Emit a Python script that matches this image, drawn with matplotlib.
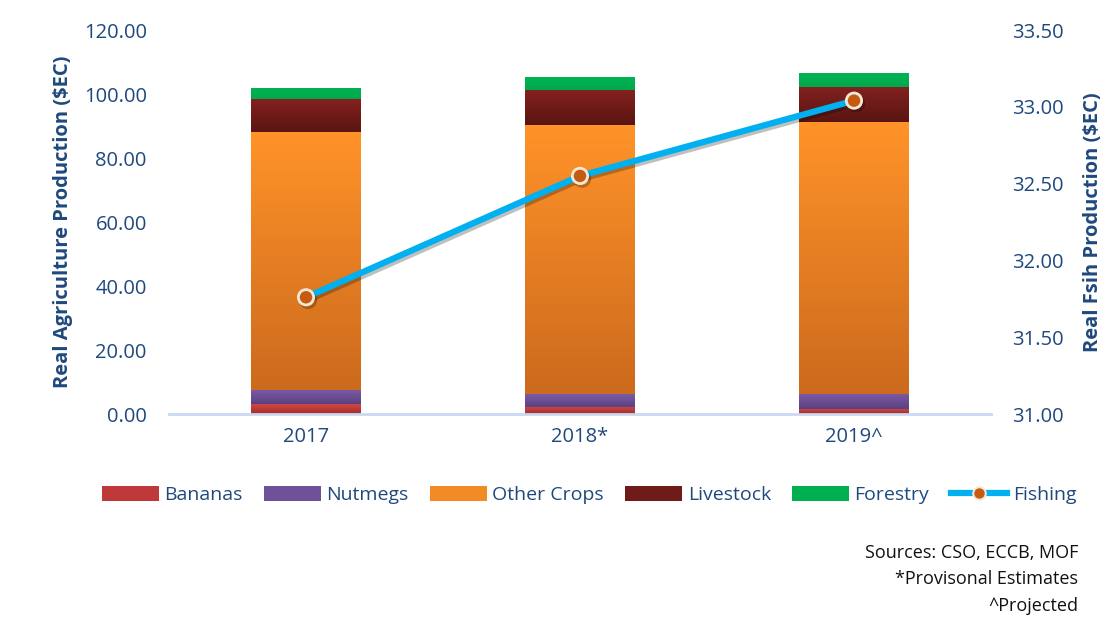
import numpy as np
import matplotlib
matplotlib.use("Agg")
import matplotlib.pyplot as plt
from matplotlib.colors import LinearSegmentedColormap
from matplotlib.lines import Line2D
from matplotlib.patches import Patch
import matplotlib.patheffects as pe

plt.rcParams['font.family'] = ['Open Sans', 'DejaVu Sans']

years = ["2017", "2018*", "2019^"]
bananas = [3.1, 2.3, 1.7]
nutmegs = [4.4, 4.0, 4.7]
other_crops = [80.5, 84.1, 84.8]
livestock = [10.3, 10.9, 11.1]
forestry = [3.6, 4.0, 4.2]
fishing = [31.76, 32.55, 33.04]

series = [
    ("Bananas", bananas, "#c0393a", "#d04645", "#a52e2d"),
    ("Nutmegs", nutmegs, "#6f519a", "#7c5ba6", "#5a4180"),
    ("Other Crops", other_crops, "#f28a25", "#ff9329", "#cc6a1d"),
    ("Livestock", livestock, "#6e1b1a", "#832120", "#5a1511"),
    ("Forestry", forestry, "#00b050", "#00b353", "#00a84c"),
]

TXT = "#1f497d"

fig = plt.figure(figsize=(11.12, 6.21), dpi=100)
ax = fig.add_axes([169/1112, 1-414/621, (991-169)/1112, (414-30)/621])
x = np.arange(len(years))
bottom = np.zeros(len(years))
handles = []
for name, vals, base, top, bot in series:
    bars = ax.bar(x, vals, width=0.40, bottom=bottom, color=base, zorder=2,
                  linewidth=0)
    cmap = LinearSegmentedColormap.from_list(name, [bot, top])
    grad = np.linspace(0, 1, 64).reshape(-1, 1)
    for p in bars.patches:
        bx, by, bw, bh = p.get_x(), p.get_y(), p.get_width(), p.get_height()
        im = ax.imshow(grad, cmap=cmap, origin='lower', aspect='auto',
                       extent=[bx, bx + bw, by, by + bh], zorder=2.5,
                       interpolation='bicubic')
        im.set_clip_path(p)
    bottom = bottom + np.array(vals)
    handles.append(Patch(facecolor=base, edgecolor='none', label=name))

ax.set_xlim(-0.5, 2.5)
ax.set_ylim(0, 120)
ax.set_yticks(np.arange(0, 121, 20))
ax.set_yticklabels([f"{v:.2f}" for v in np.arange(0, 121, 20)])
ax.set_xticks(x)
ax.set_xticklabels(years)
for s in ["top", "right", "left"]:
    ax.spines[s].set_visible(False)
ax.spines["bottom"].set_color("#c9d9f0")
ax.spines["bottom"].set_linewidth(2)
ax.tick_params(axis='y', length=0, pad=16, labelsize=14.5, labelcolor=TXT)
ax.tick_params(axis='x', length=0, pad=9, labelsize=14.5, labelcolor=TXT)
ax.set_ylabel("Real Agriculture Production ($EC)", fontsize=14.5,
              fontweight='bold', color=TXT, labelpad=8)

ax2 = ax.twinx()
ax2.set_ylim(31, 33.5)
ticks2 = np.arange(31, 33.51, 0.5)
ax2.set_yticks(ticks2)
ax2.set_yticklabels([f"{v:.2f}" for v in ticks2])
for s in ["top", "right", "left", "bottom"]:
    ax2.spines[s].set_visible(False)
ax2.tick_params(axis='y', length=0, pad=15, labelsize=14.5, labelcolor=TXT)
ax2.set_ylabel("Real Fsih Production ($EC)", fontsize=14.5,
               fontweight='bold', color=TXT, labelpad=14)
ax2.plot(x, fishing, color="#00b0f0", linewidth=4.5, marker='o',
         markersize=11, markerfacecolor="#c55a11", markeredgecolor="#f3e8d6",
         markeredgewidth=2, zorder=5, solid_capstyle='round',
         path_effects=[pe.SimpleLineShadow(offset=(1.5, -2), alpha=0.25), pe.Normal()])

fish_handle = Line2D([0], [0], color="#00b0f0", linewidth=4.5, marker='o',
                     markersize=9, markerfacecolor="#c55a11",
                     markeredgecolor="#f3e8d6", markeredgewidth=1.5,
                     label="Fishing")
handles.append(fish_handle)

fig.legend(handles=handles, loc='center', bbox_to_anchor=(0.530, 1-495/621),
           ncol=6, frameon=False, fontsize=14, labelcolor=TXT,
           handlelength=2.9, handleheight=0.8, handletextpad=0.3,
           columnspacing=1.1)

src = ["Sources: CSO, ECCB, MOF", "*Provisonal Estimates", "^Projected"]
for i, t in enumerate(src):
    fig.text(1078/1112, 1-(553 + 26.5*i)/621, t, ha='right', va='center',
             fontsize=13, color='#111111')

fig.savefig("out.png", dpi=100)
